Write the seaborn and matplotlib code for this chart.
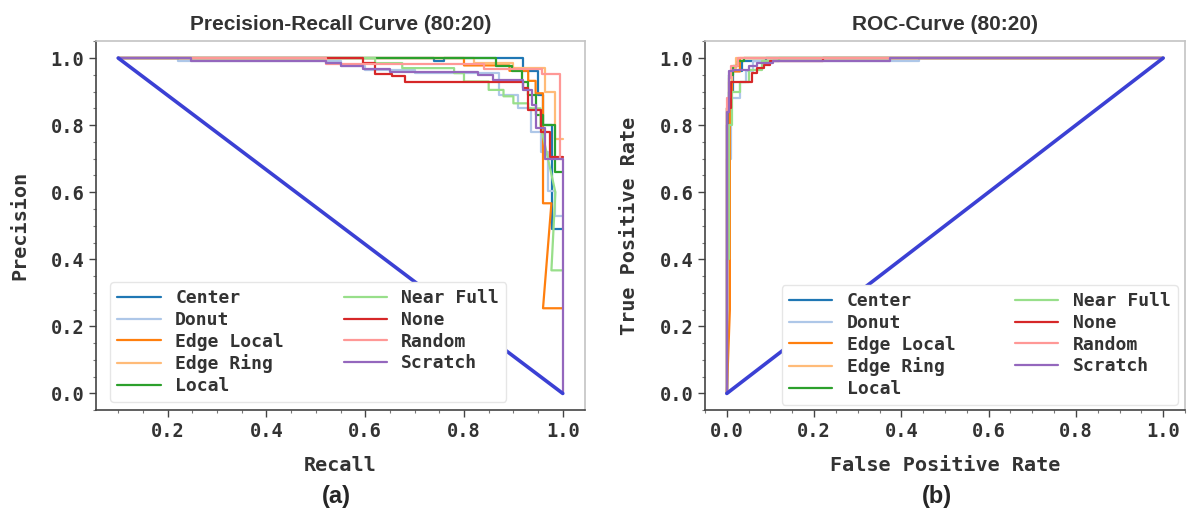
import numpy as np
import pandas as pd
import matplotlib
matplotlib.use('Agg')
import matplotlib.pyplot as plt
from matplotlib.ticker import AutoMinorLocator
import seaborn as sns

# class names and tab20 colours
classes = ['Center', 'Donut', 'Edge Local', 'Edge Ring', 'Local',
           'Near Full', 'None', 'Random', 'Scratch']

# precision-recall curves (recall, precision)
pr_recall = {
    'Center': [0.10, 0.74, 0.74, 0.76, 0.76, 0.92, 0.92, 0.949, 0.949, 0.959, 0.959, 0.978, 0.978, 1.00],
    'Donut': [0.10, 0.22, 0.22, 0.55, 0.55, 0.60, 0.60, 0.70, 0.70, 0.87, 0.87, 0.91, 0.91, 0.935, 0.935,
              0.955, 0.955, 0.97, 0.97, 0.985, 0.985, 1.00],
    'Edge Local': [0.10, 0.80, 0.80, 0.892, 0.892, 0.93, 0.93, 0.945, 0.945, 0.96, 0.96, 0.977, 0.96, 0.994, 1.00],
    'Edge Ring': [0.10, 0.82, 0.82, 0.90, 0.90, 0.965, 0.965, 0.985, 0.985, 1.00],
    'Local': [0.10, 0.865, 0.865, 0.898, 0.898, 0.917, 0.917, 0.93, 0.93, 0.945, 0.945, 0.96, 0.96,
              0.985, 0.985, 1.00],
    'Near Full': [0.10, 0.62, 0.62, 0.675, 0.675, 0.78, 0.78, 0.80, 0.80, 0.85, 0.85, 0.88, 0.88, 0.90, 0.90,
                  0.93, 0.93, 0.955, 0.955, 0.985, 0.977, 1.00],
    'None': [0.10, 0.595, 0.595, 0.62, 0.62, 0.655, 0.655, 0.68, 0.68, 0.92, 0.92, 0.93, 0.93, 0.955, 0.955,
             0.975, 0.975, 1.00],
    'Random': [0.10, 0.52, 0.52, 0.84, 0.84, 0.957, 0.957, 0.994, 0.994, 1.00],
    'Scratch': [0.10, 0.248, 0.248, 0.52, 0.52, 0.55, 0.55, 0.595, 0.595, 0.65, 0.65, 0.828, 0.828, 0.858,
                0.858, 0.92, 0.92, 0.937, 0.937, 0.945, 0.945, 0.965, 0.965, 1.00, 1.00],
}
pr_precision = {
    'Center': [1.00, 1.00, 0.99, 0.99, 1.00, 1.00, 0.962, 0.962, 0.89, 0.89, 0.80, 0.80, 0.49, 0.49],
    'Donut': [1.00, 1.00, 0.99, 0.99, 0.975, 0.975, 0.965, 0.965, 0.954, 0.954, 0.89, 0.89, 0.85, 0.85,
              0.78, 0.78, 0.72, 0.72, 0.605, 0.605, 0.53, 0.53],
    'Edge Local': [1.00, 1.00, 0.978, 0.978, 0.962, 0.962, 0.932, 0.932, 0.895, 0.895, 0.567, 0.567, 0.254,
                   0.254, 0.254],
    'Edge Ring': [1.00, 1.00, 0.985, 0.985, 0.97, 0.97, 0.90, 0.90, 0.76, 0.76],
    'Local': [1.00, 1.00, 0.977, 0.977, 0.96, 0.96, 0.928, 0.928, 0.89, 0.89, 0.83, 0.83, 0.80, 0.80,
              0.66, 0.66],
    'Near Full': [1.00, 1.00, 0.985, 0.985, 0.97, 0.97, 0.955, 0.955, 0.93, 0.93, 0.905, 0.905, 0.886, 0.886,
                  0.865, 0.865, 0.85, 0.85, 0.80, 0.60, 0.367, 0.367],
    'None': [1.00, 1.00, 0.985, 0.985, 0.953, 0.953, 0.945, 0.945, 0.928, 0.928, 0.91, 0.91, 0.845, 0.845,
             0.78, 0.78, 0.705, 0.705],
    'Random': [1.00, 1.00, 0.983, 0.983, 0.967, 0.967, 0.953, 0.953, 0.70, 0.70],
    'Scratch': [1.00, 1.00, 0.991, 0.991, 0.985, 0.985, 0.975, 0.975, 0.966, 0.966, 0.958, 0.958, 0.949,
                0.949, 0.934, 0.934, 0.905, 0.905, 0.86, 0.86, 0.79, 0.79, 0.70, 0.70, 0.00],
}

# ROC curves (false positive rate, true positive rate)
roc_fpr = {
    'Center': [0, 0, 0.005, 0.005, 0.015, 0.015, 0.035, 0.035, 0.09, 0.09, 1.0],
    'Donut': [0, 0, 0.01, 0.01, 0.03, 0.03, 0.045, 0.045, 0.06, 0.06, 0.44, 0.44, 1.0],
    'Edge Local': [0, 0.007, 0.007, 0.012, 0.012, 0.03, 0.03, 1.0],
    'Edge Ring': [0, 0, 0.004, 0.004, 0.012, 0.012, 0.02, 0.02, 1.0],
    'Local': [0, 0, 0.005, 0.005, 0.015, 0.015, 0.025, 0.025, 0.04, 0.04, 1.0],
    'Near Full': [0, 0, 0.006, 0.006, 0.012, 0.012, 0.03, 0.03, 0.05, 0.05, 0.08, 0.08, 0.12, 0.12, 1.0],
    'None': [0, 0, 0.01, 0.01, 0.057, 0.057, 0.07, 0.07, 0.085, 0.085, 0.10, 0.10, 0.22, 0.22, 1.0],
    'Random': [0, 0, 0.004, 0.004, 0.01, 0.01, 0.025, 0.025, 1.0],
    'Scratch': [0, 0, 0.004, 0.004, 0.015, 0.015, 0.05, 0.05, 0.07, 0.07, 0.105, 0.105, 0.374, 0.374, 1.0],
}
roc_tpr = {
    'Center': [0, 0.80, 0.80, 0.90, 0.90, 0.96, 0.96, 0.99, 0.99, 1.0, 1.0],
    'Donut': [0, 0.70, 0.70, 0.88, 0.88, 0.93, 0.93, 0.96, 0.96, 0.991, 0.991, 1.0, 1.0],
    'Edge Local': [0, 0.25, 0.90, 0.90, 0.96, 0.96, 1.0, 1.0],
    'Edge Ring': [0, 0.85, 0.85, 0.93, 0.93, 0.97, 0.97, 1.0, 1.0],
    'Local': [0, 0.85, 0.85, 0.95, 0.95, 0.975, 0.975, 0.99, 0.99, 1.0, 1.0],
    'Near Full': [0, 0.40, 0.40, 0.80, 0.80, 0.90, 0.90, 0.93, 0.93, 0.965, 0.965, 0.99, 0.99, 1.0, 1.0],
    'None': [0, 0.85, 0.85, 0.93, 0.93, 0.955, 0.955, 0.97, 0.97, 0.98, 0.98, 0.99, 0.99, 1.0, 1.0],
    'Random': [0, 0.88, 0.88, 0.94, 0.94, 0.975, 0.975, 1.0, 1.0],
    'Scratch': [0, 0.84, 0.84, 0.96, 0.96, 0.965, 0.965, 0.975, 0.975, 0.985, 0.985, 0.991, 0.991, 1.0, 1.0],
}

# reference diagonals
pr_diag_x = [0.1, 1.0]
pr_diag_y = [1.0, 0.0]
roc_diag_x = [0.0, 1.0]
roc_diag_y = [0.0, 1.0]

sns.set_theme(style='white')
plt.rcParams['font.family'] = ['DejaVu Sans Mono']
plt.rcParams['font.weight'] = 'bold'

palette = sns.color_palette('tab20', len(classes))
diag_color = '#3b40d4'

fig = plt.figure(figsize=(12, 5.16), dpi=100)
ax1 = fig.add_axes([0.08, 0.205, 0.4075, 0.715])
ax2 = fig.add_axes([0.5875, 0.205, 0.4, 0.715])


def style_axes(ax, title, xlabel, ylabel):
    ax.set_title(title, fontsize=15, fontweight='bold', family='Liberation Sans', color='#333333', pad=8)
    ax.set_xlabel(xlabel, fontsize=14.5, fontweight='bold', color='#333333', labelpad=11)
    ax.set_ylabel(ylabel, fontsize=14.5, fontweight='bold', color='#333333', labelpad=15)
    ax.set_xticks([0.0, 0.2, 0.4, 0.6, 0.8, 1.0])
    ax.set_yticks([0.0, 0.2, 0.4, 0.6, 0.8, 1.0])
    ax.xaxis.set_minor_locator(AutoMinorLocator(4))
    ax.yaxis.set_minor_locator(AutoMinorLocator(4))
    ax.tick_params(which='major', direction='out', length=5, width=1, colors='#444444',
                   labelsize=13.5, labelcolor='#333333', bottom=True, left=True)
    ax.tick_params(which='minor', direction='out', length=2.5, width=0.8, colors='#777777',
                   bottom=True, left=True)
    for lab in ax.get_xticklabels() + ax.get_yticklabels():
        lab.set_fontweight('bold')
    for side in ['left', 'bottom']:
        ax.spines[side].set_color('#444444')
        ax.spines[side].set_linewidth(1.2)
    for side in ['top', 'right']:
        ax.spines[side].set_color('#c4c4c4')
        ax.spines[side].set_linewidth(1.2)


# Precision-Recall panel
for name, col in zip(classes, palette):
    sns.lineplot(x=pr_recall[name], y=pr_precision[name], sort=False, estimator=None,
                 color=col, linewidth=1.6, label=name, ax=ax1)
sns.lineplot(x=pr_diag_x, y=pr_diag_y, sort=False, estimator=None, color=diag_color,
             linewidth=2.6, legend=False, ax=ax1)
style_axes(ax1, 'Precision-Recall Curve (80:20)', 'Recall', 'Precision')
ax1.set_xlim(0.055, 1.045)
ax1.set_ylim(-0.05, 1.05)

# ROC panel
for name, col in zip(classes, palette):
    sns.lineplot(x=roc_fpr[name], y=roc_tpr[name], sort=False, estimator=None,
                 color=col, linewidth=1.6, label=name, ax=ax2)
sns.lineplot(x=roc_diag_x, y=roc_diag_y, sort=False, estimator=None, color=diag_color,
             linewidth=2.6, legend=False, ax=ax2)
style_axes(ax2, 'ROC-Curve (80:20)', 'False Positive Rate', 'True Positive Rate')
ax2.set_xlim(-0.05, 1.05)
ax2.set_ylim(-0.05, 1.05)

for ax, loc, anchor in [(ax1, 'lower left', (0.029, 0.022)), (ax2, 'lower right', (0.985, 0.014))]:
    leg = ax.legend(loc=loc, bbox_to_anchor=anchor, ncol=2, fontsize=13, frameon=True,
                    framealpha=1.0, edgecolor='#e6e6e6', handlelength=2.4, handletextpad=0.8,
                    columnspacing=3.3, labelspacing=0.2, borderaxespad=0.0, borderpad=0.4)
    leg.set_zorder(5)
    for t in leg.get_texts():
        t.set_color('#333333')
        t.set_fontweight('bold')

fig.text(0.2805, 0.037, '(a)', ha='center', va='center', fontsize=17, fontweight='bold',
         family='Liberation Sans')
fig.text(0.781, 0.037, '(b)', ha='center', va='center', fontsize=17, fontweight='bold',
         family='Liberation Sans')

fig.savefig('out.png', dpi=100)
